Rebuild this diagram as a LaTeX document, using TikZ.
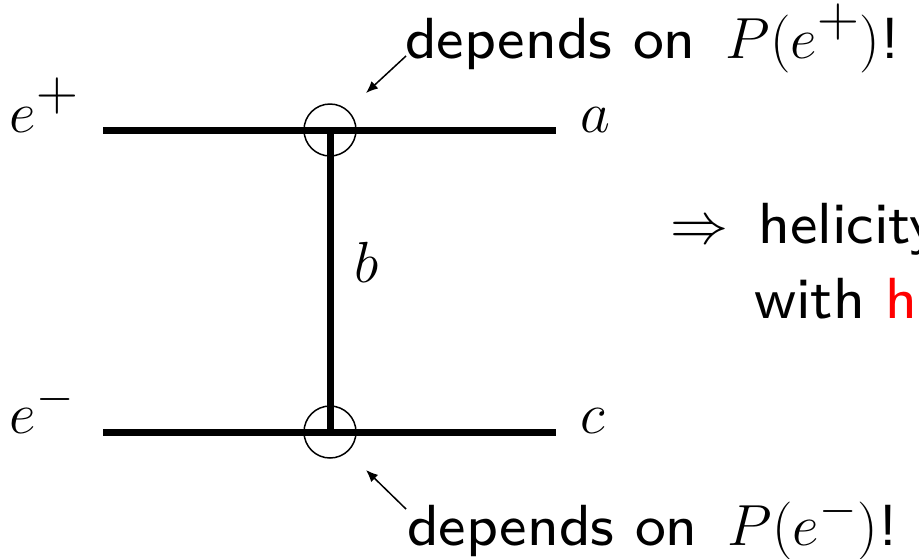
\RequirePackage{fix-cm}
\documentclass[tikz,border=0pt]{standalone}
\usepackage{fontspec}
\usetikzlibrary{arrows.meta}
\newfontfamily\slidesf{lmsans8-regular.otf}
\DeclareMathSizes{29}{29}{24}{18}
\newcommand{\bigplus}{{\textstyle +}}
\begin{document}
\begin{tikzpicture}[x=0.5pt,y=-0.5pt,
  every node/.style={inner sep=0pt, outer sep=0pt},
  txt/.style={font=\fontsize{29}{35}\selectfont\slidesf, anchor=base west},
  prop/.style={line width=3.5pt},
  vtx/.style={circle, draw, line width=0.75pt, minimum size=26pt},
  ptr/.style={line width=0.75pt, -{Latex[length=6pt,width=5pt]}}]
\clip (0,0) rectangle (919,558);
\useasboundingbox (0,0) rectangle (919,558);
% vertices
\node[vtx] (v1) at (330,130) {};
\node[vtx] (v2) at (330,432) {};
% external line ends
\coordinate (ep) at (103,130);
\coordinate (a0) at (556,130);
\coordinate (em) at (103,432);
\coordinate (c0) at (556,432);
\draw[prop] (ep) -- (a0);
\draw[prop] (em) -- (c0);
\draw[prop] (v1.center) -- (v2.center);
% labels
\node[txt] (lep) at (10,132) {$e^{\bigplus}$};
\node[txt] (lem) at (10,433) {$e^-$};
\node[txt] (la) at (580,132) {$a$};
\node[txt] (lc) at (580,433) {$c$};
\node[txt] (lb) at (354,282) {$b$};
% annotations
\node[txt] (t1) at (405,58) {depends on \,$P(e^{\bigplus})$!};
\node[txt] (t2) at (407,545) {depends on \,$P(e^-)$!};
\coordinate (t1a) at (406,56);
\coordinate (t2a) at (406,509);
\draw[ptr] (t1a) -- (366,93);
\draw[ptr] (t2a) -- (366,470);
\node[txt] (r1) at (670,243) {$\Rightarrow$\, helicity};
\node[txt] (r2) at (754,318) {with \textcolor{red}{h}};
\end{tikzpicture}
\end{document}
